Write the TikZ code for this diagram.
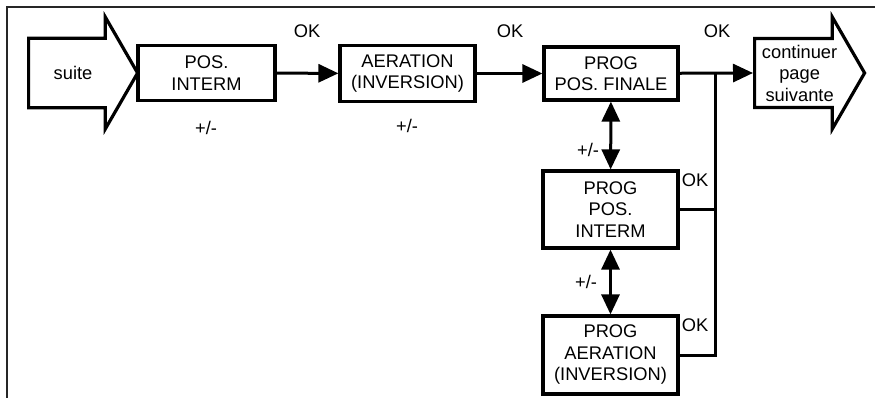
\documentclass[tikz,border=0pt]{standalone}
\usepackage{fontspec}
\setmainfont{Liberation Sans}
\usepackage{tikz}
\usetikzlibrary{arrows.meta, positioning, shapes.arrows}

\begin{document}
\begin{tikzpicture}[
          x=1pt, y=-1pt,
          every node/.style={font=\fontsize{18.3}{21.5}\selectfont},
          stepbox/.style={draw, line width=3.2pt, align=center, inner sep=0pt},
          bigarrow/.style={single arrow, draw, line width=3.2pt, align=center,
            inner xsep=0pt, minimum width=112pt, single arrow head extend=21pt,
            single arrow tip angle=120, anchor=tail},
          link/.style={line width=3pt},
          go/.style={link, -{Triangle[length=20pt, width=18pt]}},
          both/.style={link, {Triangle[length=20pt, width=18pt]}-{Triangle[length=20pt, width=18pt]}}
        ]
          \useasboundingbox (0,0) rectangle (875,398);
          \draw[line width=1.8pt, black!85] (875,7) -- (7,7) -- (7,398);

          \node[bigarrow, minimum height=109pt, inner ysep=26pt] (suite) at (27,73) {suite};
          \node[stepbox, minimum width=137pt, minimum height=55pt] (posint) at (206.5,73) {POS.\\INTERM};
          \node[stepbox, minimum width=135pt, minimum height=56pt] (aer) at (407.5,73.5) {AERATION\\(INVERSION)};
          \node[stepbox, minimum width=134pt, minimum height=53pt] (final) at (611,73.5) {PROG\\POS. FINALE};
          \node[bigarrow, minimum height=110pt, inner ysep=4pt] (suivante) at (753,73) {continuer\\page\\suivante};
          \node[stepbox, minimum width=135pt, minimum height=77pt] (proginter) at (610.5,209.5) {PROG\\POS.\\INTERM};
          \node[stepbox, minimum width=135pt, minimum height=78pt] (progaer) at (610.5,355) {PROG\\AERATION\\(INVERSION)};
          \coordinate (jn) at (715,73.5);

          \draw[go] (posint) -- (aer);
          \draw[go] (aer) -- (final);
          \draw[go] (final) -- (suivante.tail);
          \draw[both] (final) -- (proginter);
          \draw[both] (proginter) -- (progaer);
          \draw[link] (jn) |- (progaer.east);
          \draw[link] (proginter.east) -- (proginter.east -| jn);

          \node (ok1) at (307,31) {OK};
          \node (ok2) at (510,31) {OK};
          \node (ok3) at (717,31) {OK};
          \node (ok4) at (695,180) {OK};
          \node (ok5) at (695,325) {OK};
          \node (pm1) at (206,128) {+/-};
          \node (pm2) at (407,126) {+/-};
          \node (pm3) at (588,150) {+/-};
          \node (pm4) at (586,282) {+/-};
        \end{tikzpicture}
\end{document}
